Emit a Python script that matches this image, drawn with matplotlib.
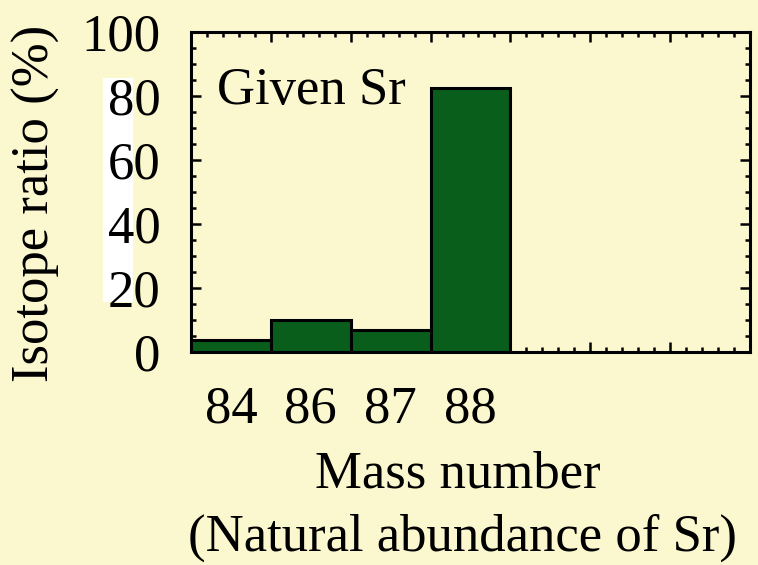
import matplotlib
matplotlib.use("Agg")
import matplotlib.pyplot as plt
from matplotlib.patches import Rectangle
from matplotlib.ticker import MultipleLocator
import matplotlib.transforms as mtransforms

# Data
mass_labels = ["84", "86", "87", "88"]
ratios = [3.6, 9.9, 7.0, 82.4]
n_slots = 7

bg = "#FBF7CE"
green = "#0A5E1C"
FS = 38

plt.rcParams["font.family"] = ["Liberation Serif", "DejaVu Serif"]

fig = plt.figure(figsize=(7.58, 5.65), dpi=100, facecolor=bg)
ax = fig.add_axes([191/758, 1-352/565, 559/758, 320/565])
ax.set_facecolor(bg)

# white strip behind y tick labels
fig.patches.append(Rectangle((103/758, 1-302/565), 30/758, 224/565,
                             transform=fig.transFigure, facecolor="white",
                             edgecolor="none", zorder=-1))

xs = [i + 0.5 for i in range(len(ratios))]
ax.bar(xs, ratios, width=1.0, color=green, edgecolor="black", linewidth=2.2, zorder=2)

ax.set_xlim(0, n_slots)
ax.set_ylim(0, 100)

for s in ax.spines.values():
    s.set_linewidth(2.2)
    s.set_zorder(3)

ax.xaxis.set_major_locator(MultipleLocator(1))
ax.xaxis.set_minor_locator(MultipleLocator(0.2))
ax.yaxis.set_major_locator(MultipleLocator(20))
ax.yaxis.set_minor_locator(MultipleLocator(5))
ax.tick_params(which="both", direction="in", top=True, right=True, width=1.8, color="black")
ax.tick_params(which="major", length=7)
ax.tick_params(which="minor", length=3.5)
ax.tick_params(axis="x", which="major", labelbottom=False)
ax.tick_params(axis="y", which="major", labelsize=FS, pad=22)

trans = mtransforms.blended_transform_factory(ax.transData, ax.transAxes)
for x, lab in zip(xs, mass_labels):
    ax.text(x, -0.18, lab, transform=trans, ha="center", va="center", fontsize=FS)

ax.set_ylabel("Isotope ratio (%)", fontsize=FS)
ax.yaxis.label.set_verticalalignment("center")
ax.yaxis.set_label_coords((36-191)/559, 0.466)

fig.text(458/758, 1-475/565, "Mass number", ha="center", va="center", fontsize=FS)
fig.text(462/758, 1-538/565, "(Natural abundance of Sr)", ha="center", va="center", fontsize=FS)

ax.text(0.33, 89, "Given Sr", ha="left", va="top", fontsize=FS, zorder=4)

fig.savefig("out.png", dpi=100, facecolor=bg)
